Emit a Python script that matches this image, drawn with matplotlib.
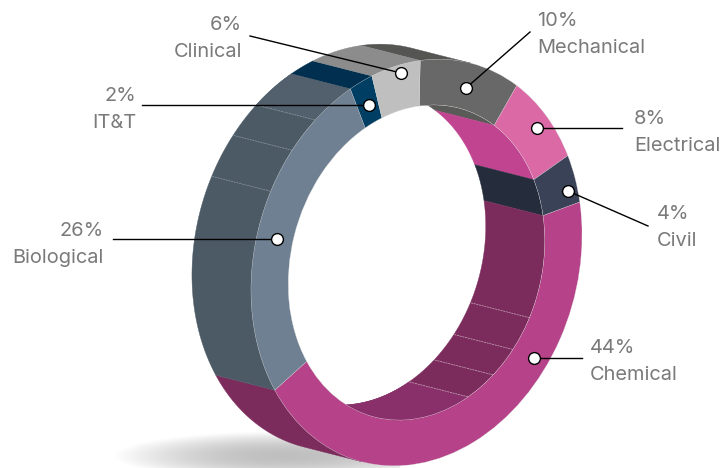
#basics
import numpy as np
#viz
import matplotlib
matplotlib.use('Agg')
import matplotlib.pyplot as plt
from matplotlib.patches import Wedge, Circle
from matplotlib.transforms import Affine2D

plt.rcParams['font.family'] = ['Inter', 'DejaVu Sans']

# the chart values
departments = ['Mechanical', 'Electrical', 'Civil', 'Chemical', 'Biological', 'IT&T', 'Clinical']
percent_labels = [10, 8, 4, 44, 26, 2, 6]
# share of the ring each slice really takes in the picture (differs a bit from its label)
drawn_shares = [10, 8, 4, 44, 27.1, 2.2, 4.7]

face_colors = ['#686868', '#da69a6', '#3a4257', '#b64389', '#6e8092', '#003f63', '#bfbfbf']
outer_wall_colors = ['#555553', '#da69a6', '#3a4257', '#7c2c5c', '#4c5a66', '#002f4f', '#8c8c8c']
inner_wall_colors = ['#5a5a58', '#c0448f', '#252d3c', '#7c2c5c', '#4c5a66', '#002f4f', '#8c8c8c']

# ring geometry, in pixels: projection of the unit circle and the extrusion
center = np.array([416.5, 262.5])
u_axis = np.array([165.5, -23.0])
v_axis = np.array([3.7, -202.0])
depth = np.array([-59.0, -15.0])
hole = 0.775

# seams on the walls, degrees clockwise from the top
bio_seams = [297, 310, 321]
chem_seams = [117, 130, 142, 155]


def ring_xy(t, r=1.0, back=False):
    '''
    Point(s) on the ring for angle t (degrees clockwise from top) and radius r.
    '''
    t = np.radians(t)
    pts = center + r * (np.outer(np.sin(t), u_axis) + np.outer(np.cos(t), v_axis))
    return pts + depth if back else pts


def wall(ax, t1, t2, r, color, clip=None, zorder=2):
    '''
    Extruded wall between angles t1 and t2 at radius r.
    '''
    ts = np.linspace(t1, t2, 60)
    pts = np.vstack([ring_xy(ts, r), ring_xy(ts[::-1], r, back=True)])
    poly = ax.fill(pts[:, 0], pts[:, 1], color=color, lw=0.3, zorder=zorder)[0]
    if clip is not None:
        poly.set_clip_path(clip)


def seam(ax, t, r, color, clip=None):
    '''
    Thin pale line across a wall.
    '''
    a = ring_xy([t], r)[0]
    b = ring_xy([t], r, back=True)[0]
    ln = ax.plot([a[0], b[0]], [a[1], b[1]], color=color, lw=0.5, ls=(0, (3, 1)), zorder=3)[0]
    if clip is not None:
        ln.set_clip_path(clip)


fig = plt.figure(figsize=(7.27, 4.68), dpi=100)
ax = fig.add_axes([0, 0, 1, 1])

# soft shadow on the floor
xx, yy = np.meshgrid(np.linspace(110, 400, 300), np.linspace(428, 468, 60))
fade = np.clip(1 - ((xx - 285) / 172) ** 2 - ((yy - 456) / 25) ** 2, 0, 1) ** 1.1
shadow = np.zeros(xx.shape + (4,))
shadow[..., :3] = 0.5
shadow[..., 3] = fade * 0.5
ax.imshow(shadow, extent=(110, 400, 468, 428), aspect='auto', zorder=1, interpolation='bilinear')
ax.set_xlim(0, 727)
ax.set_ylim(468, 0)
ax.axis('off')

# slice limits
edges = np.concatenate([[0], np.cumsum(drawn_shares)]) * 360 / sum(drawn_shares)

# the wall turns from hidden to visible where the ellipse runs along the extrusion
cross_u = u_axis[0] * depth[1] - u_axis[1] * depth[0]
cross_v = v_axis[0] * depth[1] - v_axis[1] * depth[0]
sil = np.degrees(np.arctan(cross_u / cross_v))

to_pixels = Affine2D(np.array([[u_axis[0], v_axis[0], center[0]],
                               [u_axis[1], v_axis[1], center[1]],
                               [0, 0, 1]])) + ax.transData
hole_clip = Circle((0, 0), hole, transform=to_pixels)

# outer walls: from the lower silhouette round the left side to the upper one
for i, col in enumerate(outer_wall_colors):
    t1, t2 = edges[i], edges[i + 1]
    if i == 0:
        wall(ax, t1, sil, 1.0, col)
    elif t2 > sil + 180:
        wall(ax, max(t1, sil + 180), t2, 1.0, col)
# upper bit of the biological wall is a touch lighter
wall(ax, 321, edges[5], 1.0, '#52606e')
for t in bio_seams:
    seam(ax, t, 1.0, '#8d99a3')

# inner walls, seen through the hole
for i, col in enumerate(inner_wall_colors):
    t1, t2 = edges[i], edges[i + 1]
    if t1 < sil + 180:
        wall(ax, t1, min(t2, sil + 180), hole, col, clip=hole_clip)
# lowest part of the chemical wall catches more light
wall(ax, chem_seams[-1], sil + 180, hole, '#89306a', clip=hole_clip, zorder=2)
for t in chem_seams:
    seam(ax, t, hole, '#c9a9bd', clip=hole_clip)

# front face of the ring
for i, col in enumerate(face_colors):
    # Wedge angles run anticlockwise from +x, the ring clockwise from the top
    w = Wedge((0, 0), 1.0, 90 - edges[i + 1], 90 - edges[i], width=1 - hole,
              facecolor=col, edgecolor='#d8d8d8', lw=0.2, transform=to_pixels, zorder=4)
    ax.add_patch(w)

# labels: dot on the ring, far end of the leader, text anchor and alignment
dots = [(466, 88), (537, 128), (568, 191), (534, 358), (277, 239), (369, 105), (401, 73)]
leader_ends = [(530, 32), (622, 128), (648, 226), (582, 358), (113, 239), (142, 105), (250, 36)]
text_x = [537, 634, 657, 590, 104, 136, 242]
text_y = [21, 119, 214, 348, 231, 96, 25]
text_ha = ['left', 'left', 'left', 'left', 'right', 'right', 'right']

for i, name in enumerate(departments):
    ax.plot([dots[i][0], leader_ends[i][0]], [dots[i][1], leader_ends[i][1]],
            color='black', lw=1.0, zorder=5)
    ax.scatter(*dots[i], s=72, facecolor='white', edgecolor='black', linewidth=1.0, zorder=6)
    ax.text(text_x[i], text_y[i], f'{percent_labels[i]}%', ha=text_ha[i], va='center',
            fontsize=14.4, color='#7a7a7a')
    ax.text(text_x[i], text_y[i] + 27, name, ha=text_ha[i], va='center',
            fontsize=14.4, color='#7a7a7a')

fig.savefig('out.png', dpi=100)
